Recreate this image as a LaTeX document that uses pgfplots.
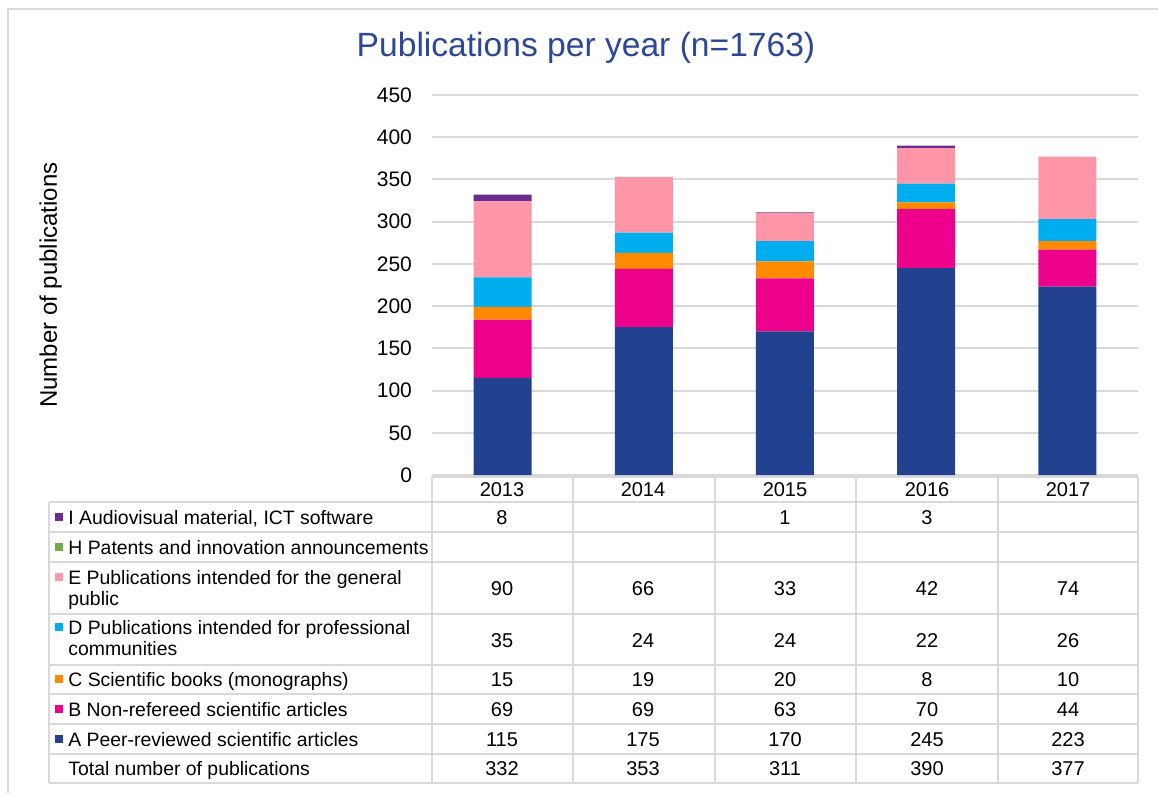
\documentclass[border=0pt]{standalone}
\usepackage{pgfplots}
\pgfplotsset{compat=1.18}
\usepackage{fontspec}
\setmainfont{Liberation Sans}
\definecolor{cA}{HTML}{22418E}
\definecolor{cB}{HTML}{EC008C}
\definecolor{cC}{HTML}{FF8A00}
\definecolor{cD}{HTML}{00AEEF}
\definecolor{cE}{HTML}{FF96A8}
\definecolor{cH}{HTML}{70AD47}
\definecolor{cI}{HTML}{6A2C91}
\definecolor{titleblue}{HTML}{2B4796}
\definecolor{gridgray}{HTML}{D9D9D9}
\begin{document}
\begin{tikzpicture}
\begin{scope}[x=0.5pt,y=-0.5pt]
\path[use as bounding box] (0,0) rectangle (1158,793);
\draw[gridgray, line width=1pt] (8,793) -- (8,9) -- (1158,9);
\node[anchor=base, text=titleblue, inner sep=0pt, font=\fontsize{16.8}{20}\selectfont] at (586,56) {Publications per year (n=1763)};
\end{scope}
\begin{axis}[
  at={(216pt,-237.5pt)}, anchor=south west,
  width=353pt, height=190pt, scale only axis,
  ybar stacked, bar width=29pt,
  xmin=-0.5, xmax=4.5, ymin=0, ymax=450,
  ytick distance=50, xtick=\empty,
  ymajorgrids, grid style={color=gridgray, line width=1pt},
  axis line style={draw=none}, major tick length=0pt,
  /pgf/number format/assume math mode=true,
  yticklabel style={font=\fontsize{10.5}{12}\selectfont, anchor=east, xshift=-6.5pt},
  ylabel={Number of publications},
  ylabel style={at={(axis description cs:-0.540,0.5)}, anchor=center, font=\fontsize{12}{14}\selectfont},
  clip=false,
]
\addplot[fill=cA, draw=none] coordinates {(0,115) (1,175) (2,170) (3,245) (4,223)};
\addplot[fill=cB, draw=none] coordinates {(0,69) (1,69) (2,63) (3,70) (4,44)};
\addplot[fill=cC, draw=none] coordinates {(0,15) (1,19) (2,20) (3,8) (4,10)};
\addplot[fill=cD, draw=none] coordinates {(0,35) (1,24) (2,24) (3,22) (4,26)};
\addplot[fill=cE, draw=none] coordinates {(0,90) (1,66) (2,33) (3,42) (4,74)};
\addplot[fill=cI, draw=none] coordinates {(0,8) (1,0) (2,1) (3,3) (4,0)};
\end{axis}
\begin{scope}[x=0.5pt,y=-0.5pt]
% table grid
\draw[gridgray, line width=1pt] (432,477) -- (1138,477);
\foreach \yy in {502,532,562,614,665,694,724,754,783}
  \draw[gridgray, line width=1pt] (49,\yy) -- (1138,\yy);
\draw[gridgray, line width=1pt] (49,502) -- (49,783);
\foreach \xx in {432,573,715,856,998,1138}
  \draw[gridgray, line width=1pt] (\xx,477) -- (\xx,783);
% legend keys
\foreach \yc/\cc in {517/cI,547/cH,577/cE,627/cD,679/cC,709/cB,739/cA}
  \fill[\cc] (55,\yc-4) rectangle (63,\yc+4);
\tikzset{lt/.style={anchor=base west, inner sep=0pt, font=\fontsize{9.7}{11}\selectfont}}
\node[lt] at (68,524) {I Audiovisual material, ICT software};
\node[lt] at (68,554) {H Patents and innovation announcements};
\node[lt] at (68,584) {E Publications intended for the general};
\node[lt] at (68,605) {public};
\node[lt] at (68,634) {D Publications intended for professional};
\node[lt] at (68,655) {communities};
\node[lt] at (68,686) {C Scientific books (monographs)};
\node[lt] at (68,716) {B Non-refereed scientific articles};
\node[lt] at (68,746) {A Peer-reviewed scientific articles};
\node[lt] at (68,775) {Total number of publications};
% numbers
\tikzset{nt/.style={anchor=base, inner sep=0pt, font=\fontsize{10}{12}\selectfont}}
\foreach \xc/\lab in {502/2013,643/2014,785/2015,927/2016,1068/2017}
  \node[nt] at (\xc,496) {\lab};
\foreach \xc/\lab in {502/8,785/1,927/3}
  \node[nt] at (\xc,524) {\lab};
\foreach \xc/\lab in {502/90,643/66,785/33,927/42,1068/74}
  \node[nt] at (\xc,595) {\lab};
\foreach \xc/\lab in {502/35,643/24,785/24,927/22,1068/26}
  \node[nt] at (\xc,647) {\lab};
\foreach \xc/\lab in {502/15,643/19,785/20,927/8,1068/10}
  \node[nt] at (\xc,686) {\lab};
\foreach \xc/\lab in {502/69,643/69,785/63,927/70,1068/44}
  \node[nt] at (\xc,716) {\lab};
\foreach \xc/\lab in {502/115,643/175,785/170,927/245,1068/223}
  \node[nt] at (\xc,746) {\lab};
\foreach \xc/\lab in {502/332,643/353,785/311,927/390,1068/377}
  \node[nt] at (\xc,775) {\lab};
\end{scope}
\end{tikzpicture}
\end{document}
